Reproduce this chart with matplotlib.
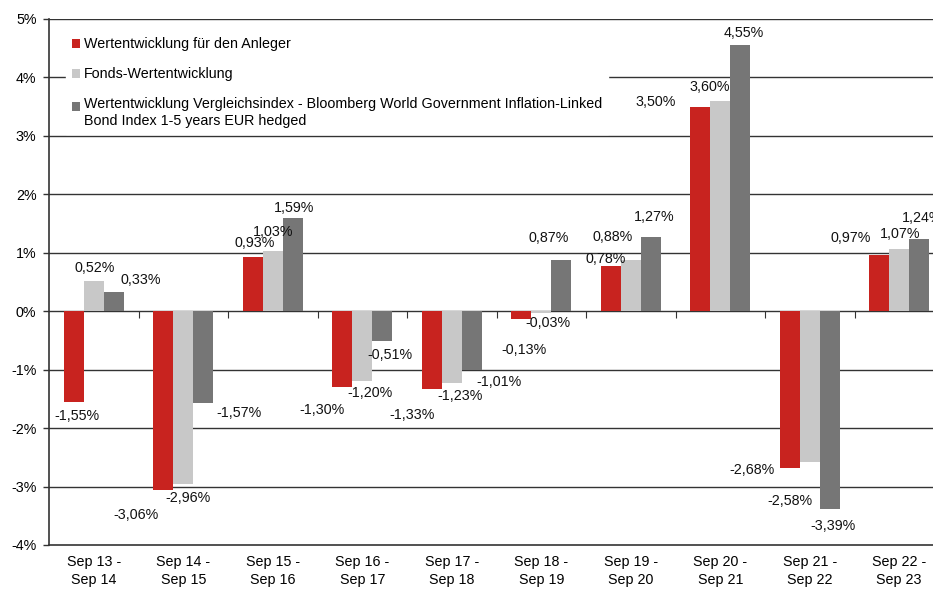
import matplotlib.pyplot as plt
from matplotlib.patches import Patch, Rectangle
from matplotlib.legend_handler import HandlerPatch
from matplotlib.ticker import FuncFormatter
import numpy as np

plt.rcParams['font.family'] = ['Liberation Sans', 'DejaVu Sans']

periods = ['Sep 13 -\nSep 14', 'Sep 14 -\nSep 15', 'Sep 15 -\nSep 16', 'Sep 16 -\nSep 17',
           'Sep 17 -\nSep 18', 'Sep 18 -\nSep 19', 'Sep 19 -\nSep 20', 'Sep 20 -\nSep 21',
           'Sep 21 -\nSep 22', 'Sep 22 -\nSep 23']
anleger = [-1.55, -3.06, 0.93, -1.30, -1.33, -0.13, 0.78, 3.50, -2.68, 0.97]
fonds = [0.52, -2.96, 1.03, -1.20, -1.23, -0.03, 0.88, 3.60, -2.58, 1.07]
index = [0.33, -1.57, 1.59, -0.51, -1.01, 0.87, 1.27, 4.55, -3.39, 1.24]
series_names = ['Wertentwicklung für den Anleger', 'Fonds-Wertentwicklung',
                'Wertentwicklung Vergleichsindex - Bloomberg World Government Inflation-Linked\n'
                'Bond Index 1-5 years EUR hedged']

# label offsets in pixels from the end of each bar (dx, dy; dy positive = up)
label_dx = [[3, -27, 2, -20, -20, 3, -5, -45, -38, -29],
            [1, 5, 0, 8, 8, 7, -18, -11, -20, 1],
            [27, 36, 1, 8, 27, -13, 3, 3, 3, 3]]
label_dy = [[-14, -25, 13.5, -22.5, -26, -31, 7, 4.7, -2, 17],
            [13, -14, 18.7, -12, -12.6, -10.5, 23, 14, -39, 15],
            [11.5, -10, 10, -13.5, -12, 22, 20, 12, -17, 21]]

colors = ['#C8231F', '#C8C8C8', '#767676']
width = 0.2235


def first_line_patch(legend, orig_handle, xdescent, ydescent, width, height, fontsize):
    # put the marker next to the first line of a two-line label
    return Rectangle((-xdescent, -ydescent + 0.45 * fontsize), width, height)


fig = plt.figure(figsize=(9.33, 5.90), dpi=100)
ax = fig.add_axes([49 / 933, 45 / 590, 895 / 933, 526 / 590])

x = np.arange(len(periods))
for k, vals in enumerate([anleger, fonds, index]):
    pos = x + (k - 1) * width
    ax.bar(pos, vals, width, color=colors[k], zorder=2)
    for i, v in enumerate(vals):
        ax.annotate(f'{v:.2f}'.replace('.', ',') + '%', (pos[i], v),
                    xytext=(label_dx[k][i], label_dy[k][i]), textcoords='offset pixels',
                    ha='center', va='center', fontsize=10.3, color='#111111', zorder=3)

ax.set_xlim(-0.5, len(periods) - 0.5)
ax.set_ylim(-4, 5)
ax.set_yticks(np.arange(-4, 6))
ax.yaxis.set_major_formatter(FuncFormatter(lambda v, p: f'{int(round(v))}%'))
ax.set_axisbelow(True)
for y in range(-3, 6):
    if y != 0:
        ax.axhline(y, color='#333333', lw=1, zorder=0)

ax.set_xticks(x)
ax.set_xticklabels(periods, fontsize=10.3, linespacing=1.35)
ax.tick_params(axis='x', length=0, pad=7)
ax.tick_params(axis='y', length=4, width=1, color='#333333', labelsize=10.3, pad=5)
for s in ['top', 'right']:
    ax.spines[s].set_visible(False)
ax.spines['left'].set_color('#333333')
ax.spines['bottom'].set_color('#333333')
ax.spines['left'].set_linewidth(1.2)
ax.spines['bottom'].set_linewidth(1.2)

zero_ax = ax.secondary_xaxis(4 / 9)
zero_ax.set_xticks(x[:-1] + 0.5)
zero_ax.tick_params(axis='x', direction='out', length=5, color='#333333', labelbottom=False)
zero_ax.spines['bottom'].set_color('#333333')
zero_ax.spines['bottom'].set_linewidth(1)
zero_ax.set_xticklabels([])

handles = [Patch(facecolor=c) for c in colors]
leg = ax.legend(handles, series_names, loc='upper left', bbox_to_anchor=(0.011, 0.99),
                fontsize=10.3, frameon=True, fancybox=False, framealpha=1, edgecolor='white',
                handlelength=0.6, handleheight=0.6, handletextpad=0.25,
                labelspacing=1.12, borderpad=0.4,
                handler_map={handles[2]: HandlerPatch(patch_func=first_line_patch)})
for t in leg.get_texts():
    t.set_linespacing(1.3)
leg.set_zorder(5)

fig.savefig('out.png', dpi=100)
